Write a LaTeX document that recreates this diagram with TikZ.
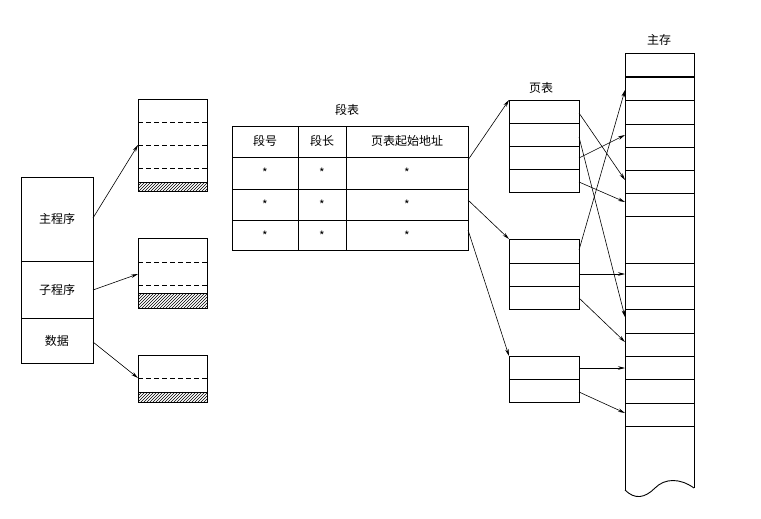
\documentclass[tikz,border=0pt]{standalone}
\usepackage{fontspec}
\setmainfont{Noto Sans CJK SC}
\usetikzlibrary{patterns,arrows.meta}
\begin{document}
\begin{tikzpicture}[x=1pt,y=-1pt,line width=0.9pt,
 arr/.style={-{Stealth[length=7pt,width=3.5pt]},line width=0.6pt},
 dsh/.style={dashed,dash pattern=on 5pt off 3pt,line width=0.6pt},
 thin/.style={line width=0.6pt},
 lbl/.style={font=\fontsize{12}{14}\selectfont,inner sep=0pt},
 hat/.style={pattern=north east lines,draw,line width=0.8pt}]
\useasboundingbox (0,0) rectangle (761,519);
% program
\node[draw,minimum width=72,minimum height=186,anchor=north west,inner sep=0pt,line width=0.9pt] (prog) at (21,177) {};
\draw[thin] (21,261)--(93,261) (21,318)--(93,318);
\node[lbl] (tmain) at (57,219) {主程序};
\node[lbl] (tsub) at (57,290) {子程序};
\node[lbl] (tdata) at (57,341) {数据};
\coordinate (pm) at (93,218); \coordinate (ps) at (93,290); \coordinate (pd) at (93,342);
% segments
\node[draw,minimum width=69,minimum height=92,anchor=north west,inner sep=0pt] (s1) at (138,99) {};
\draw[dsh] (138,122)--(207,122) (138,145)--(207,145) (138,168)--(207,168);
\draw[hat] (138,182) rectangle (207,191);
\node[draw,minimum width=69,minimum height=70,anchor=north west,inner sep=0pt] (s2) at (138,238) {};
\draw[dsh] (138,262)--(207,262) (138,285)--(207,285);
\draw[hat] (138,293) rectangle (207,308);
\node[draw,minimum width=69,minimum height=47,anchor=north west,inner sep=0pt] (s3) at (138,355) {};
\draw[dsh] (138,378)--(207,378);
\draw[hat] (138,392) rectangle (207,402);
\coordinate (a1) at (138,145); \coordinate (a2) at (138,274); \coordinate (a3) at (138,378);
\draw[arr] (pm)--(a1); \draw[arr] (ps)--(a2); \draw[arr] (pd)--(a3);
% segment table
\node[lbl] (stl) at (347,110) {段表};
\node[draw,minimum width=236,minimum height=124,anchor=north west,inner sep=0pt] (st) at (232,126) {};
\draw[thin] (232,157)--(468,157) (232,189)--(468,189) (232,220)--(468,220)
 (298,126)--(298,250) (346,126)--(346,250);
\node[lbl] (h1) at (265,141) {段号};
\node[lbl] (h2) at (322,141) {段长};
\node[lbl] (h3) at (407,141) {页表起始地址};
\foreach \y in {173,205,236}{\node[lbl] at (265,\y) {*};\node[lbl] at (322,\y) {*};\node[lbl] at (407,\y) {*};}
% page tables
\node[lbl] (ptl) at (541,88) {页表};
\node[draw,minimum width=70,minimum height=92,anchor=north west,inner sep=0pt] (p1) at (509,100) {};
\draw[thin] (509,123)--(579,123) (509,146)--(579,146) (509,169)--(579,169);
\node[draw,minimum width=70,minimum height=70,anchor=north west,inner sep=0pt] (p2) at (509,239) {};
\draw[thin] (509,263)--(579,263) (509,286)--(579,286);
\node[draw,minimum width=70,minimum height=46,anchor=north west,inner sep=0pt] (p3) at (509,356) {};
\draw[thin] (509,379)--(579,379);
\coordinate (t1) at (468,160); \coordinate (t2) at (468,200); \coordinate (t3) at (468,230);
\draw[arr] (t1)--(p1.north west); \draw[arr] (t2)--(p2.north west); \draw[arr] (t3)--(p3.north west);
% memory
\node[lbl] (ml) at (659,40) {主存};
\coordinate (m0) at (625,53);
\draw (625,490)--(625,53)--(694,53)--(694,488);
\draw (625,490) .. controls (635,500) and (645,498) .. (655,488) .. controls (665,478) and (680,478) .. (694,488);
\draw[line width=1.1pt] (625,77)--(694,77);
\foreach \y in {100,124,147,170,193,216,263,286,309,333,356,379,403,426}{\draw[thin] (625,\y)--(694,\y);}
% page -> memory
\draw[arr] (579,113)--(625,180);
\draw[arr] (579,137)--(625,317);
\draw[arr] (579,158)--(625,135);
\draw[arr] (579,182)--(625,202);
\draw[arr] (579,250)--(625,90);
\draw[arr] (579,274)--(625,274);
\draw[arr] (579,298)--(625,342);
\draw[arr] (579,368)--(625,368);
\draw[arr] (579,392)--(625,413);
\end{tikzpicture}
\end{document}
